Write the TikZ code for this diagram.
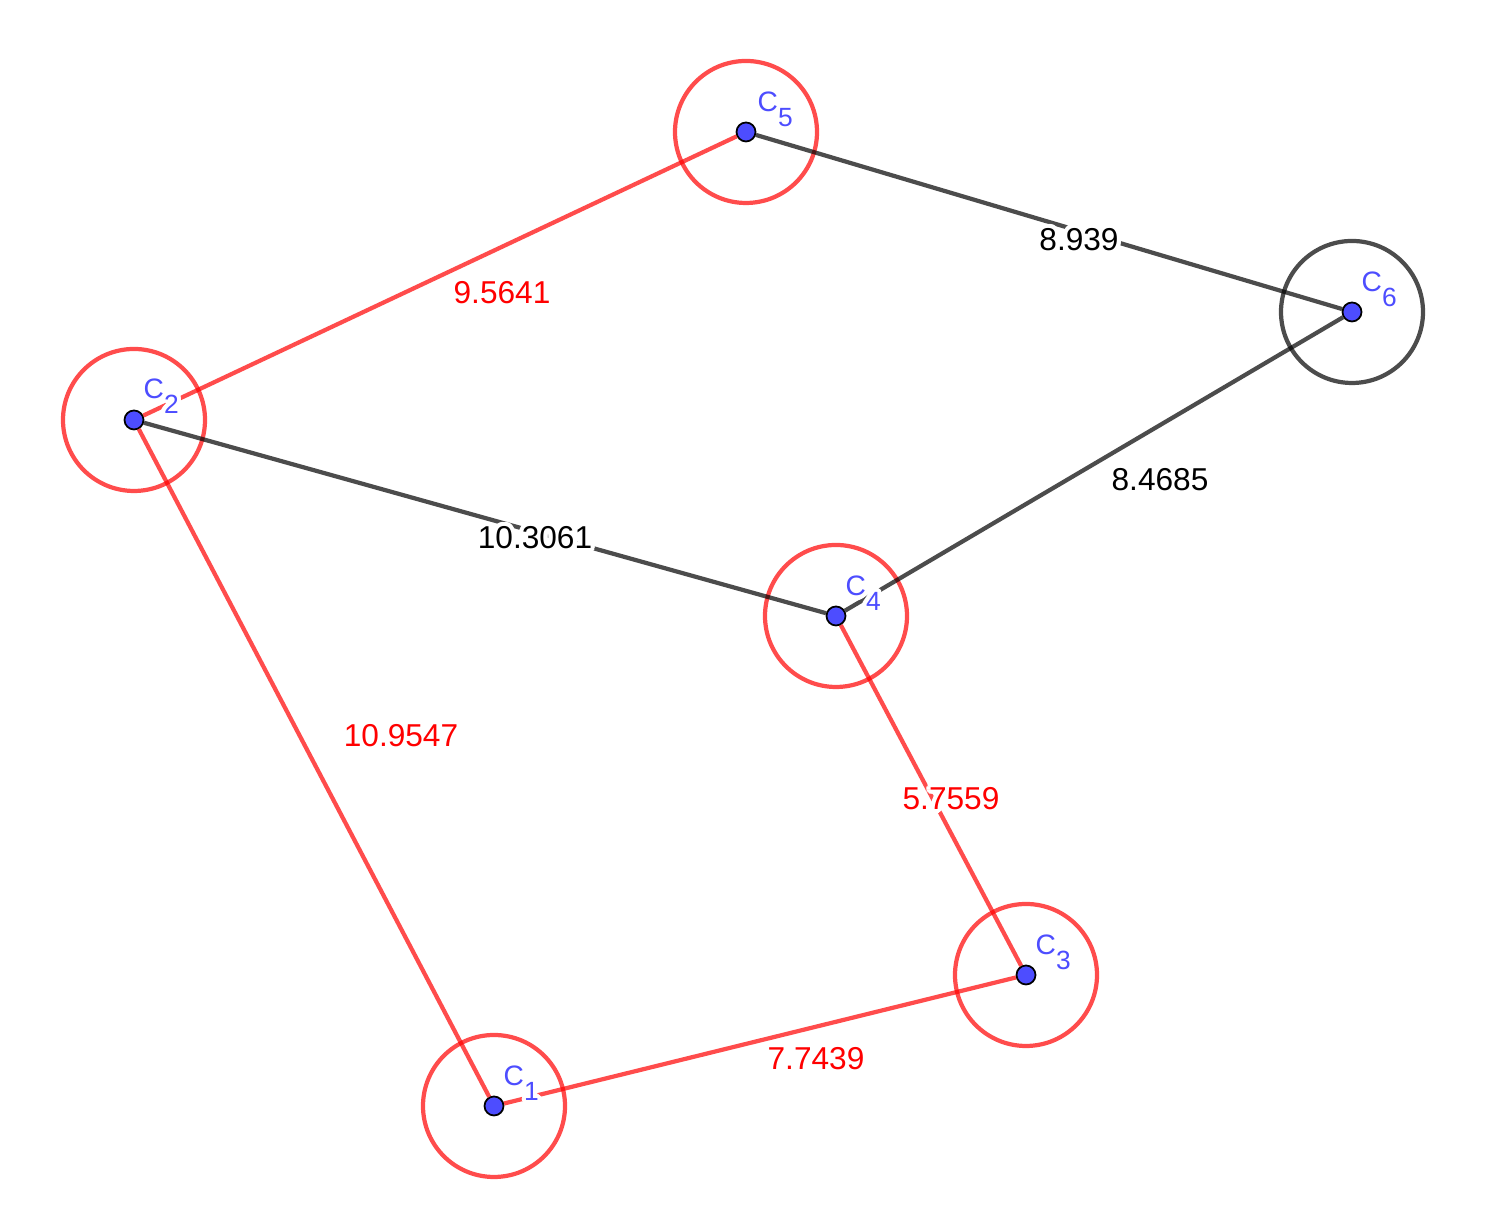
\documentclass[tikz,border=0pt]{standalone}
\usepackage{fontspec}
\setmainfont{Liberation Sans}
\usepackage[copies]{contour}
\contourlength{1.2pt}
\usepackage{tikz}
\usetikzlibrary{positioning,calc}
\definecolor{ggblue}{RGB}{77,77,255}
\newcommand{\ptname}[1]{\contour{white}{C\raisebox{-4pt}{\fontsize{7.5}{8}\selectfont #1}}}

\begin{document}
\begin{tikzpicture}[
  pt/.style={draw=black, fill=ggblue, circle, inner sep=0pt, minimum size=0.19cm, line width=0.5pt},
  redring/.style={draw=red, draw opacity=0.7, circle, inner sep=0pt, minimum size=1.42cm, line width=1.2pt},
  greyring/.style={draw=black, draw opacity=0.7, circle, inner sep=0pt, minimum size=1.42cm, line width=1.2pt},
  redline/.style={draw=red, draw opacity=0.7, line width=1.2pt},
  greyline/.style={draw=black, draw opacity=0.7, line width=1.2pt},
  ptlbl/.style={anchor=base west, text=ggblue, font=\fontsize{8}{9}\selectfont, inner sep=0pt},
  redlbl/.style={text=red, font=\fontsize{9}{10}\selectfont, inner sep=0pt},
  blklbl/.style={text=black, font=\fontsize{9}{10}\selectfont, inner sep=0pt},
]
  \useasboundingbox (0,0) rectangle (14.95,12.05);

  \node[redring] (r1) at (4.94,0.99) {};
  \node[redring] (r2) at (1.34,7.85) {};
  \node[redring] (r3) at (10.26,2.30) {};
  \node[redring] (r4) at (8.36,5.89) {};
  \node[redring] (r5) at (7.46,10.73) {};
  \node[greyring] (r6) at (13.52,8.93) {};

  \node[pt] (c1) at (r1.center) {};
  \node[pt] (c2) at (r2.center) {};
  \node[pt] (c3) at (r3.center) {};
  \node[pt] (c4) at (r4.center) {};
  \node[pt] (c5) at (r5.center) {};
  \node[pt] (c6) at (r6.center) {};

  \draw[redline] (c2) -- (c5);
  \draw[greyline] (c5) -- (c6);
  \draw[greyline] (c6) -- (c4);
  \draw[greyline] (c2) -- (c4);
  \draw[redline] (c2) -- (c1);
  \draw[redline] (c1) -- (c3);
  \draw[redline] (c4) -- (c3);

  \node[redlbl] (l25) at (5.02,9.10) {\contour{white}{9.5641}};
  \node[blklbl] (l56) at (10.79,9.63) {\contour{white}{8.939}};
  \node[blklbl] (l64) at (11.60,7.23) {\contour{white}{8.4685}};
  \node[blklbl] (l24) at (5.35,6.65) {\contour{white}{10.3061}};
  \node[redlbl] (l21) at (4.01,4.67) {\contour{white}{10.9547}};
  \node[redlbl] (l43) at (9.51,4.04) {\contour{white}{5.7559}};
  \node[redlbl] (l13) at (8.16,1.44) {\contour{white}{7.7439}};

  \node[ptlbl] (n1) at ($(c1)+(0.09,0.20)$) {\ptname{1}};
  \node[ptlbl] (n2) at ($(c2)+(0.09,0.21)$) {\ptname{2}};
  \node[ptlbl] (n3) at ($(c3)+(0.09,0.20)$) {\ptname{3}};
  \node[ptlbl] (n4) at ($(c4)+(0.09,0.20)$) {\ptname{4}};
  \node[ptlbl] (n5) at ($(c5)+(0.11,0.20)$) {\ptname{5}};
  \node[ptlbl] (n6) at ($(c6)+(0.09,0.20)$) {\ptname{6}};
\end{tikzpicture}
\end{document}
